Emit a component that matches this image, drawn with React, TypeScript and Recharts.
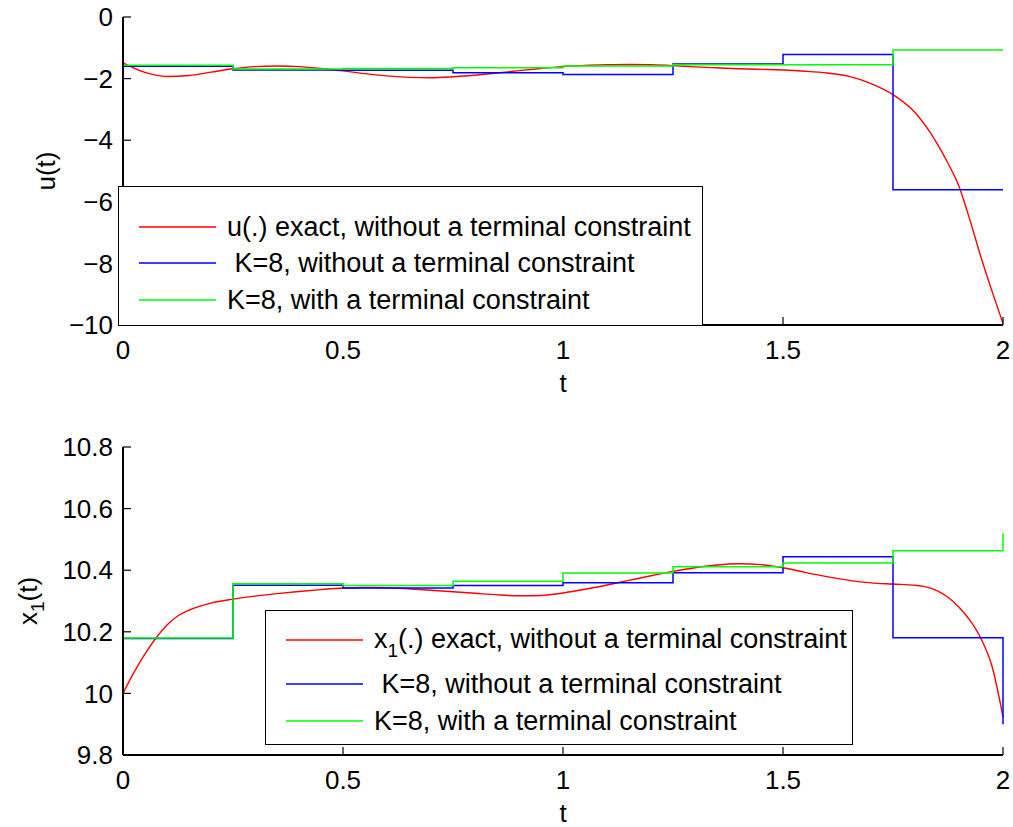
import React from "react";
import { LineChart, Line, XAxis, YAxis, Legend } from "recharts";

// K=8 piecewise-constant grid
const stepTimes = [0, 0.25, 0.5, 0.75, 1, 1.25, 1.5, 1.75];
const endTime = 2;

// control u(t)
const uExactT = [
  0, 0.05, 0.1, 0.15, 0.2, 0.25, 0.3, 0.35, 0.4, 0.45, 0.5, 0.55, 0.6, 0.65,
  0.7, 0.75, 0.8, 0.85, 0.9, 0.95, 1, 1.05, 1.1, 1.15, 1.2, 1.25, 1.3, 1.35,
  1.4, 1.45, 1.5, 1.55, 1.6, 1.65, 1.7, 1.75, 1.8, 1.825, 1.85, 1.875, 1.9,
  1.925, 1.95, 1.975, 2,
];
const uExact = [
  -1.49, -1.8, -1.93, -1.9, -1.79, -1.68, -1.61, -1.59, -1.61, -1.67, -1.75,
  -1.84, -1.91, -1.96, -1.97, -1.94, -1.89, -1.82, -1.74, -1.67, -1.61, -1.57,
  -1.55, -1.54, -1.55, -1.58, -1.62, -1.65, -1.68, -1.7, -1.72, -1.76, -1.82,
  -1.93, -2.16, -2.52, -3.1, -3.55, -4.1, -4.75, -5.5, -6.6, -7.8, -8.9, -9.95,
];
const uBlue = [-1.6, -1.72, -1.73, -1.81, -1.87, -1.53, -1.22, -5.61];
const uGreen = [-1.57, -1.69, -1.67, -1.65, -1.59, -1.55, -1.55, -1.07];

// state x1(t)
const x1ExactT = [
  0, 0.025, 0.05, 0.075, 0.1, 0.125, 0.15, 0.2, 0.25, 0.3, 0.35, 0.4, 0.45,
  0.5, 0.55, 0.6, 0.65, 0.7, 0.75, 0.8, 0.85, 0.9, 0.95, 1, 1.05, 1.1, 1.15,
  1.2, 1.25, 1.3, 1.35, 1.4, 1.45, 1.5, 1.55, 1.6, 1.65, 1.7, 1.75, 1.8,
  1.825, 1.85, 1.875, 1.9, 1.925, 1.95, 1.975, 2,
];
const x1Exact = [
  10.0, 10.068, 10.128, 10.18, 10.222, 10.252, 10.27, 10.293, 10.306, 10.316,
  10.324, 10.331, 10.337, 10.342, 10.344, 10.343, 10.34, 10.335, 10.33, 10.325,
  10.32, 10.317, 10.318, 10.326, 10.338, 10.352, 10.367, 10.382, 10.396,
  10.408, 10.417, 10.421, 10.418, 10.408, 10.393, 10.379, 10.367, 10.359,
  10.355, 10.351, 10.346, 10.334, 10.312, 10.28, 10.237, 10.178, 10.088, 9.924,
];
const x1Start = 10;
const x1Blue = [10.178, 10.351, 10.342, 10.35, 10.359, 10.392, 10.444, 10.181];
const x1Green = [10.18, 10.356, 10.35, 10.364, 10.391, 10.411, 10.423, 10.463];
const x1BlueEnd = 9.9;
const x1GreenEnd = 10.52;

const uTicks = [-10, -8, -6, -4, -2, 0];
const x1Ticks = [9.8, 10, 10.2, 10.4, 10.6, 10.8];
const tTicks = [0, 0.5, 1, 1.5, 2];

const uNames = [
  "u(.) exact, without a terminal constraint",
  " K=8, without a terminal constraint",
  "K=8, with a terminal constraint",
];
const x1Names = [
  "x_1(.) exact, without a terminal constraint",
  " K=8, without a terminal constraint",
  "K=8, with a terminal constraint",
];

const RED = "#ff0000";
const BLUE = "#0000ff";
const GREEN = "#00ff00";
const FONT = "'Liberation Sans', Arial, Helvetica, sans-serif";

const curve = (ts: number[], vs: number[]) => ts.map((t, i) => ({ t, v: vs[i] }));

const stairs = (vals: number[], start?: number, end?: number) => {
  const pts: { t: number; v: number }[] = [];
  if (start !== undefined) pts.push({ t: stepTimes[0], v: start });
  vals.forEach((v, i) => pts.push({ t: stepTimes[i], v }));
  pts.push({ t: endTime, v: end ?? vals[vals.length - 1] });
  return pts;
};

const fmtNum = (v: number) => {
  const s = String(Number(v.toFixed(2)));
  return v < 0 ? "\u2212" + s.slice(1) : s;
};

// "x_1" -> x with subscript 1
const HtmlLabel = ({ text }: { text: string }) => {
  const parts = text.split(/_(\d)/);
  return (
    <span style={{ whiteSpace: "pre" }}>
      {parts.map((p, i) =>
        i % 2 === 1 ? (
          <span key={i} style={{ fontSize: 19, position: "relative", top: 9 }}>
            {p}
          </span>
        ) : (
          <span key={i}>{p}</span>
        )
      )}
    </span>
  );
};

const makeLegend =
  (names: string[], w: number, h: number, rows: number[]) =>
  (props: any) => {
    const payload: any[] = props.payload || [];
    // keep the plotting order, not the alphabetical one
    const entries = names
      .map((n) => payload.find((e) => e.value === n))
      .filter(Boolean);
    return (
      <div
        style={{
          width: w,
          height: h,
          boxSizing: "border-box",
          border: "1.5px solid #000",
          background: "#fff",
          position: "relative",
          fontFamily: FONT,
          fontSize: 27,
          color: "#000",
        }}
      >
        {entries.map((entry: any, i: number) => (
          <div
            key={i}
            style={{
              position: "absolute",
              left: 0,
              top: rows[i] - 18,
              height: 36,
              display: "flex",
              alignItems: "center",
            }}
          >
            <svg width={97} height={4} style={{ display: "block" }}>
              <line
                x1={20}
                x2={97}
                y1={2}
                y2={2}
                stroke={entry.color}
                strokeWidth={1.5}
              />
            </svg>
            <span style={{ marginLeft: 11, lineHeight: "36px" }}>
              <HtmlLabel text={String(entry.value)} />
            </span>
          </div>
        ))}
      </div>
    );
  };

const YTitle = (props: any) => {
  const { viewBox, text, dx } = props;
  const x = viewBox.x + dx;
  const y = viewBox.y + viewBox.height / 2;
  const parts = String(text).split(/_(\d)/);
  return (
    <text
      x={x}
      y={y}
      transform={`rotate(-90, ${x}, ${y})`}
      textAnchor="middle"
      dominantBaseline="central"
      fontSize={26}
      fill="#000"
      fontFamily={FONT}
    >
      {parts.map((p, i) =>
        i % 2 === 1 ? (
          <tspan key={i} dy={9} fontSize={19}>
            {p}
          </tspan>
        ) : (
          <tspan key={i} dy={i > 0 ? -9 : 0}>
            {p}
          </tspan>
        )
      )}
    </text>
  );
};

const XTitle = (props: any) => {
  const { viewBox } = props;
  return (
    <text
      x={viewBox.x + viewBox.width / 2}
      y={viewBox.y + viewBox.height}
      textAnchor="middle"
      dominantBaseline="central"
      fontSize={26}
      fill="#000"
      fontFamily={FONT}
    >
      t
    </text>
  );
};

const noTick = () => <g />;
const axisLine = { stroke: "#000", strokeWidth: 2 };
const tickLine = { stroke: "#000", strokeWidth: 1.2 };
const tickStyle = { fontSize: 26, fill: "#000", fontFamily: FONT };

interface PanelProps {
  exact: { t: number; v: number }[];
  blue: { t: number; v: number }[];
  green: { t: number; v: number }[];
  names: string[];
  domain: [number, number];
  yTicks: number[];
  yTitle: string;
  yTitleDx: number;
  legendPos: { left: number; top: number; w: number; h: number; rows: number[] };
}

const Panel: React.FC<PanelProps> = ({
  exact,
  blue,
  green,
  names,
  domain,
  yTicks,
  yTitle,
  yTitleDx,
  legendPos,
}) => (
  <LineChart
    width={1013}
    height={400}
    margin={{ top: 17, right: 10, bottom: 17, left: 0 }}
  >
    <XAxis
      dataKey="t"
      type="number"
      domain={[0, 2]}
      ticks={tTicks}
      interval={0}
      allowDuplicatedCategory={false}
      height={58}
      axisLine={axisLine}
      tickLine={tickLine}
      tickSize={-8}
      tickMargin={24}
      tick={tickStyle}
      tickFormatter={fmtNum}
      label={<XTitle />}
    />
    <XAxis
      xAxisId="top"
      orientation="top"
      type="number"
      domain={[0, 2]}
      ticks={tTicks}
      interval={0}
      height={0}
      axisLine={axisLine}
      tickLine={tickLine}
      tickSize={-8}
      tick={noTick}
    />
    <YAxis
      type="number"
      domain={domain}
      ticks={yTicks}
      interval={0}
      width={123}
      axisLine={axisLine}
      tickLine={tickLine}
      tickSize={-8}
      tickMargin={18}
      tick={tickStyle}
      tickFormatter={fmtNum}
      label={<YTitle text={yTitle} dx={yTitleDx} />}
    />
    <YAxis
      yAxisId="right"
      orientation="right"
      type="number"
      domain={domain}
      ticks={yTicks}
      interval={0}
      width={0}
      axisLine={axisLine}
      tickLine={tickLine}
      tickSize={-8}
      tick={noTick}
    />
    <Line
      data={exact}
      dataKey="v"
      name={names[0]}
      type="monotone"
      stroke={RED}
      strokeWidth={1.4}
      dot={false}
      activeDot={false}
      isAnimationActive={false}
    />
    <Line
      data={blue}
      dataKey="v"
      name={names[1]}
      type="stepAfter"
      stroke={BLUE}
      strokeWidth={1.5}
      dot={false}
      activeDot={false}
      isAnimationActive={false}
    />
    <Line
      data={green}
      dataKey="v"
      name={names[2]}
      type="stepAfter"
      stroke={GREEN}
      strokeWidth={1.5}
      dot={false}
      activeDot={false}
      isAnimationActive={false}
    />
    <Legend
      layout="vertical"
      align="center"
      verticalAlign="middle"
      wrapperStyle={{
        left: legendPos.left,
        top: legendPos.top,
        width: legendPos.w,
        height: legendPos.h,
      }}
      content={makeLegend(names, legendPos.w, legendPos.h, legendPos.rows)}
    />
  </LineChart>
);

export default function App() {
  return (
    <div
      style={{
        position: "absolute",
        left: 0,
        top: 0,
        width: 1013,
        height: 827,
        background: "#fff",
        overflow: "hidden",
        fontFamily: FONT,
      }}
    >
      <div style={{ position: "absolute", left: 0, top: 0 }}>
        <Panel
          exact={curve(uExactT, uExact)}
          blue={stairs(uBlue)}
          green={stairs(uGreen)}
          names={uNames}
          domain={[-10, 0]}
          yTicks={uTicks}
          yTitle="u(t)"
          yTitleDx={46}
          legendPos={{ left: 118, top: 186, w: 585, h: 140, rows: [40, 76, 113] }}
        />
      </div>
      <div style={{ position: "absolute", left: 0, top: 430 }}>
        <Panel
          exact={curve(x1ExactT, x1Exact)}
          blue={stairs(x1Blue, x1Start, x1BlueEnd)}
          green={stairs(x1Green, x1Start, x1GreenEnd)}
          names={x1Names}
          domain={[9.8, 10.8]}
          yTicks={x1Ticks}
          yTitle="x_1(t)"
          yTitleDx={28}
          legendPos={{ left: 265, top: 180, w: 588, h: 135, rows: [29, 73, 110] }}
        />
      </div>
    </div>
  );
}
